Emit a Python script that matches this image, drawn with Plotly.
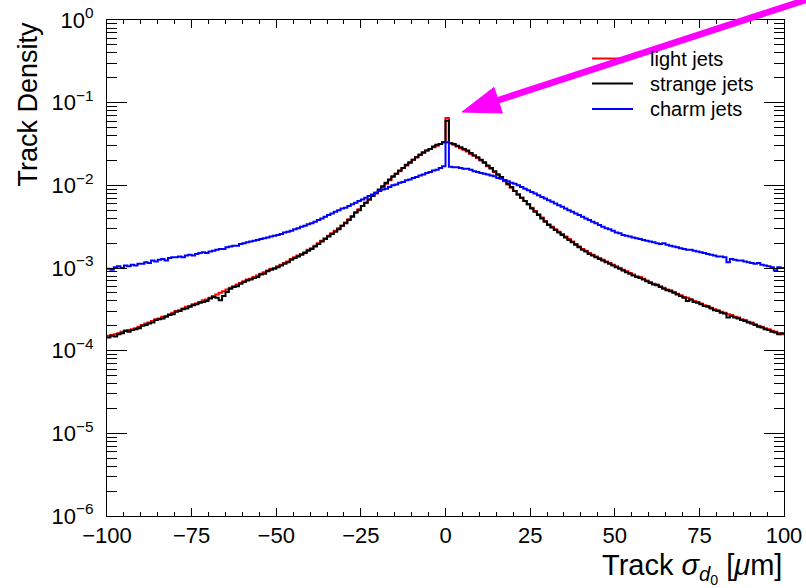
import plotly.graph_objects as go

# ---------------- data (log10 of track density, 1 um bins from -100 to 100) ----------------
bin_edges = list(range(-100, 101))

light_log10 = [
    -3.82, -3.81, -3.80, -3.79, -3.77, -3.76, -3.75, -3.74, -3.73, -3.71,
    -3.69, -3.67, -3.66, -3.64, -3.62, -3.61, -3.59, -3.58, -3.56, -3.54,
    -3.52, -3.51, -3.49, -3.47, -3.46, -3.44, -3.43, -3.41, -3.39, -3.38,
    -3.36, -3.34, -3.32, -3.30, -3.28, -3.26, -3.24, -3.22, -3.20, -3.18,
    -3.16, -3.14, -3.13, -3.11, -3.09, -3.07, -3.05, -3.03, -3.01, -3.00,
    -2.98, -2.96, -2.94, -2.92, -2.89, -2.87, -2.85, -2.83, -2.81, -2.78,
    -2.76, -2.73, -2.70, -2.67, -2.64, -2.61, -2.58, -2.55, -2.52, -2.49,
    -2.45, -2.41, -2.37, -2.33, -2.29, -2.25, -2.21, -2.17, -2.13, -2.10,
    -2.06, -2.02, -1.98, -1.94, -1.90, -1.86, -1.83, -1.79, -1.76, -1.73,
    -1.69, -1.66, -1.63, -1.61, -1.58, -1.56, -1.54, -1.52, -1.50, -1.48,
    -1.185, -1.49, -1.51, -1.53, -1.55, -1.57, -1.59, -1.62, -1.64, -1.67,
    -1.70, -1.73, -1.77, -1.80, -1.84, -1.87, -1.91, -1.95, -1.99, -2.03,
    -2.07, -2.11, -2.15, -2.19, -2.23, -2.27, -2.31, -2.35, -2.39, -2.43,
    -2.47, -2.50, -2.53, -2.56, -2.59, -2.62, -2.65, -2.68, -2.71, -2.74,
    -2.77, -2.79, -2.82, -2.84, -2.86, -2.88, -2.90, -2.92, -2.94, -2.96,
    -2.98, -3.00, -3.02, -3.04, -3.06, -3.08, -3.10, -3.11, -3.13, -3.15,
    -3.17, -3.19, -3.20, -3.22, -3.24, -3.26, -3.27, -3.29, -3.31, -3.33,
    -3.35, -3.36, -3.38, -3.40, -3.41, -3.43, -3.45, -3.46, -3.48, -3.50,
    -3.51, -3.53, -3.54, -3.56, -3.57, -3.59, -3.60, -3.62, -3.63, -3.65,
    -3.66, -3.68, -3.70, -3.71, -3.73, -3.74, -3.76, -3.77, -3.79, -3.80,
]

strange_log10 = [
    -3.84, -3.82, -3.83, -3.80, -3.79, -3.76, -3.77, -3.75, -3.74, -3.73,
    -3.70, -3.69, -3.67, -3.66, -3.63, -3.62, -3.61, -3.59, -3.57, -3.56,
    -3.53, -3.52, -3.50, -3.49, -3.47, -3.45, -3.44, -3.42, -3.41, -3.40,
    -3.37, -3.35, -3.36, -3.39, -3.34, -3.29, -3.25, -3.23, -3.22, -3.19,
    -3.17, -3.15, -3.14, -3.12, -3.11, -3.08, -3.07, -3.04, -3.02, -3.01,
    -2.99, -2.97, -2.95, -2.93, -2.90, -2.88, -2.86, -2.84, -2.82, -2.79,
    -2.77, -2.74, -2.71, -2.68, -2.65, -2.62, -2.59, -2.56, -2.53, -2.49,
    -2.46, -2.42, -2.38, -2.33, -2.30, -2.25, -2.21, -2.17, -2.13, -2.09,
    -2.05, -2.01, -1.97, -1.93, -1.89, -1.86, -1.82, -1.79, -1.75, -1.72,
    -1.69, -1.66, -1.63, -1.60, -1.58, -1.56, -1.53, -1.51, -1.50, -1.48,
    -1.218, -1.49, -1.50, -1.52, -1.54, -1.56, -1.58, -1.61, -1.64, -1.66,
    -1.69, -1.72, -1.76, -1.79, -1.83, -1.87, -1.90, -1.94, -1.98, -2.02,
    -2.07, -2.11, -2.15, -2.19, -2.23, -2.28, -2.32, -2.36, -2.40, -2.44,
    -2.48, -2.51, -2.54, -2.57, -2.60, -2.63, -2.66, -2.69, -2.72, -2.75,
    -2.78, -2.80, -2.83, -2.85, -2.87, -2.89, -2.91, -2.93, -2.95, -2.97,
    -2.99, -3.01, -3.03, -3.05, -3.07, -3.09, -3.11, -3.12, -3.14, -3.16,
    -3.18, -3.20, -3.21, -3.23, -3.25, -3.27, -3.28, -3.30, -3.32, -3.34,
    -3.36, -3.40, -3.38, -3.41, -3.42, -3.44, -3.46, -3.47, -3.49, -3.51,
    -3.52, -3.54, -3.55, -3.60, -3.58, -3.60, -3.61, -3.63, -3.64, -3.66,
    -3.67, -3.69, -3.71, -3.72, -3.74, -3.75, -3.77, -3.78, -3.80, -3.79,
]

charm_log10 = [
    -3.01, -3.02, -2.99, -2.98, -3.00, -2.97, -2.98, -2.96, -2.97, -2.95,
    -2.95, -2.93, -2.94, -2.91, -2.92, -2.90, -2.89, -2.91, -2.88, -2.87,
    -2.87, -2.86, -2.87, -2.85, -2.84, -2.85, -2.83, -2.82, -2.81, -2.82,
    -2.80, -2.79, -2.78, -2.77, -2.77, -2.75, -2.74, -2.73, -2.73, -2.71,
    -2.70, -2.69, -2.68, -2.67, -2.66, -2.65, -2.64, -2.63, -2.62, -2.61,
    -2.60, -2.59, -2.57, -2.56, -2.55, -2.53, -2.52, -2.50, -2.49, -2.47,
    -2.46, -2.44, -2.42, -2.40, -2.38, -2.36, -2.34, -2.32, -2.30, -2.28,
    -2.27, -2.25, -2.23, -2.21, -2.19, -2.17, -2.15, -2.13, -2.11, -2.09,
    -2.07, -2.05, -2.04, -2.02, -2.00, -1.99, -1.97, -1.96, -1.94, -1.93,
    -1.91, -1.90, -1.88, -1.87, -1.85, -1.84, -1.82, -1.81, -1.79, -1.77,
    -1.48, -1.775, -1.78, -1.78, -1.79, -1.80, -1.80, -1.81, -1.83, -1.84,
    -1.85, -1.86, -1.87, -1.88, -1.89, -1.91, -1.92, -1.94, -1.95, -1.97,
    -1.98, -2.00, -2.02, -2.04, -2.06, -2.08, -2.10, -2.12, -2.14, -2.16,
    -2.18, -2.20, -2.22, -2.24, -2.26, -2.28, -2.30, -2.32, -2.34, -2.36,
    -2.38, -2.40, -2.42, -2.44, -2.46, -2.48, -2.50, -2.52, -2.53, -2.55,
    -2.57, -2.58, -2.60, -2.61, -2.62, -2.63, -2.64, -2.65, -2.66, -2.67,
    -2.68, -2.69, -2.70, -2.71, -2.70, -2.72, -2.73, -2.74, -2.75, -2.76,
    -2.77, -2.78, -2.78, -2.79, -2.80, -2.81, -2.82, -2.83, -2.84, -2.85,
    -2.86, -2.86, -2.87, -2.93, -2.89, -2.90, -2.91, -2.91, -2.92, -2.93,
    -2.94, -2.95, -2.94, -2.96, -2.97, -2.98, -2.99, -3.03, -2.99, -3.00,
]

series_names = ["light jets", "strange jets", "charm jets"]
series_values = [light_log10, strange_log10, charm_log10]
series_colors = ["#ff0000", "#000000", "#0000ff"]

x_tick_vals = [-100, -75, -50, -25, 0, 25, 50, 75, 100]
y_tick_vals = [1e-6, 1e-5, 1e-4, 1e-3, 1e-2, 1e-1, 1]
y_tick_text = ["10<sup>\u22126</sup>", "10<sup>\u22125</sup>", "10<sup>\u22124</sup>",
               "10<sup>\u22123</sup>", "10<sup>\u22122</sup>", "10<sup>\u22121</sup>", "10<sup>0</sup>"]
y_minor_vals = [m * 10.0 ** e for e in range(-6, 0) for m in range(2, 10)]

FONT = "Liberation Sans, Arial, Helvetica, sans-serif"

# plot-area geometry in pixels (for decorations in paper coords)
L, R, T, B = 107, 784, 20, 516
W, H = 806, 588


def paper(px, py):
    return (px - L) / (R - L), (B - py) / (B - T)


fig = go.Figure()
for name, vals, color in zip(series_names, series_values, series_colors):
    yv = [10.0 ** v for v in vals]
    yv.append(yv[-1])
    fig.add_trace(go.Scatter(
        x=bin_edges, y=yv, mode="lines", name=name,
        line=dict(color=color, width=2, shape="hv"),
        showlegend=False, hoverinfo="skip",
    ))

shapes = []
annotations = []

# manual legend (ROOT style)
legend_rows = [58.5, 83.5, 109]
for name, color, ry in zip(series_names, series_colors, legend_rows):
    x0, y0 = paper(592, ry)
    x1, _ = paper(633, ry)
    shapes.append(dict(type="line", xref="paper", yref="paper", x0=x0, y0=y0, x1=x1, y1=y0,
                       line=dict(color=color, width=2)))
    tx, _ = paper(648, ry)
    annotations.append(dict(xref="paper", yref="paper", x=tx, y=y0, text=name, showarrow=False,
                            xanchor="left", yanchor="middle", font=dict(family=FONT, size=20, color="black")))

# magenta arrow pointing at the spike
tip = (462, 112)
tail = (830, -8)
dx, dy = tail[0] - tip[0], tail[1] - tip[1]
ln = (dx * dx + dy * dy) ** 0.5
ux, uy = dx / ln, dy / ln
nx, ny = -uy, ux
head_len, head_half = 38, 13.5
bx, by = tip[0] + head_len * ux, tip[1] + head_len * uy
p_tip = paper(*tip)
p_v1 = paper(bx + head_half * nx, by + head_half * ny)
p_v2 = paper(bx - head_half * nx, by - head_half * ny)
p_base = paper(bx - 2 * ux, by - 2 * uy)
p_tail = paper(*tail)
shapes.append(dict(type="line", xref="paper", yref="paper", x0=p_base[0], y0=p_base[1],
                   x1=p_tail[0], y1=p_tail[1], line=dict(color="#ff00ff", width=6.5), layer="above"))
shapes.append(dict(type="path", xref="paper", yref="paper",
                   path=f"M {p_tip[0]},{p_tip[1]} L {p_v1[0]},{p_v1[1]} L {p_v2[0]},{p_v2[1]} Z",
                   fillcolor="#ff00ff", line=dict(color="#ff00ff", width=1), layer="above"))

# axis titles (ROOT style: right/top aligned)
ytx, _ = paper(27, 0)
annotations.append(dict(xref="paper", yref="paper", x=ytx, y=1.0, text="Track Density", textangle=-90,
                        showarrow=False, xanchor="center", yanchor="top",
                        font=dict(family=FONT, size=27, color="black")))
_, xty = paper(0, 568)
annotations.append(dict(xref="paper", yref="paper", x=1.0, y=xty,
                        text="Track <i>\u03c3</i><sub><i>d</i><sub>0</sub></sub> [<i>\u03bc</i>m]",
                        showarrow=False, xanchor="right", yanchor="middle",
                        font=dict(family=FONT, size=29, color="black")))

fig.update_layout(
    width=W, height=H,
    margin=dict(l=L, r=W - R, t=T, b=H - B, pad=0, autoexpand=False),
    paper_bgcolor="white", plot_bgcolor="white",
    font=dict(family=FONT, size=22, color="black"),
    shapes=shapes, annotations=annotations,
    showlegend=False,
)
fig.update_xaxes(
    range=[-100, 100], tickmode="array", tickvals=x_tick_vals,
    ticks="inside", ticklen=8, tickwidth=1, tickcolor="black",
    minor=dict(tickmode="linear", tick0=0, dtick=5, ticks="inside", ticklen=4, tickcolor="black", tickwidth=1),
    showline=True, linecolor="black", linewidth=1, mirror="allticks",
    showgrid=False, zeroline=False, tickfont=dict(family=FONT, size=22),
    ticklabelstandoff=0, automargin=False,
)
fig.update_yaxes(
    type="log", range=[-6, 0], tickmode="array", tickvals=y_tick_vals, ticktext=y_tick_text,
    ticks="inside", ticklen=20, tickwidth=1, tickcolor="black",
    minor=dict(tickmode="array", tickvals=y_minor_vals, ticks="inside", ticklen=10, tickcolor="black", tickwidth=1),
    showline=True, linecolor="black", linewidth=1, mirror="allticks",
    showgrid=False, zeroline=False, tickfont=dict(family=FONT, size=22),
    ticklabelstandoff=8, automargin=False,
)

fig.write_html(
    "out.html",
    config={"displayModeBar": False},
    post_script="document.body.style.margin='0';document.body.style.overflow='hidden';",
)
